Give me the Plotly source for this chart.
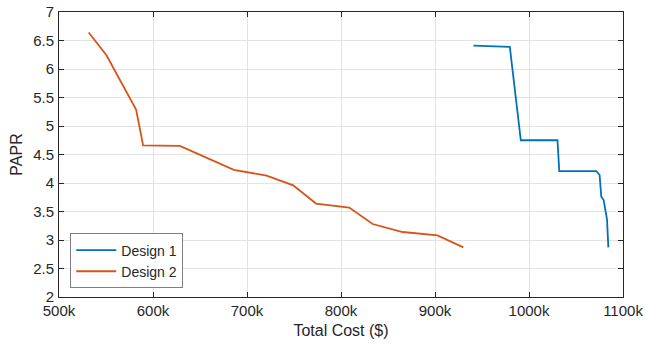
import plotly.graph_objects as go

# Data (cost in $k, PAPR)
design1_cost = [940.9, 979.6, 991.3, 1030.3, 1032.2, 1071.6, 1075.1, 1076.9, 1079.4, 1083.0, 1084.4]
design1_papr = [6.41, 6.39, 4.75, 4.75, 4.21, 4.21, 4.14, 3.76, 3.70, 3.36, 2.87]

design2_cost = [531.6, 550.5, 582.0, 589.5, 628.6, 686.0, 720.9, 749.2, 773.4, 808.8, 833.7, 865.6, 902.6, 930.2]
design2_papr = [6.64, 6.24, 5.29, 4.66, 4.65, 4.23, 4.13, 3.96, 3.64, 3.57, 3.28, 3.14, 3.08, 2.87]

x_tickvals = [500, 600, 700, 800, 900, 1000, 1100]
x_ticktext = ["500k", "600k", "700k", "800k", "900k", "1000k", "1100k"]
y_tickvals = [2, 2.5, 3, 3.5, 4, 4.5, 5, 5.5, 6, 6.5, 7]
y_ticktext = ["2", "2.5", "3", "3.5", "4", "4.5", "5", "5.5", "6", "6.5", "7"]

fig = go.Figure()
fig.add_trace(go.Scatter(x=design1_cost, y=design1_papr, mode="lines", name="Design 1",
                         line=dict(color="#0072BD", width=1.8)))
fig.add_trace(go.Scatter(x=design2_cost, y=design2_papr, mode="lines", name="Design 2",
                         line=dict(color="#D95319", width=1.8)))

axis_common = dict(
    showline=True, linecolor="#262626", linewidth=1, mirror="ticks",
    ticks="inside", ticklen=5, tickcolor="#262626",
    showgrid=True, gridcolor="#E3E3E3", gridwidth=1, zeroline=False,
    automargin=False,
    tickfont=dict(family="Liberation Sans, Arial, sans-serif", size=15, color="#262626"),
)

fig.update_layout(
    width=645, height=347,
    margin=dict(l=59, r=22, t=12, b=50),
    paper_bgcolor="white", plot_bgcolor="white",
    font=dict(family="Liberation Sans, Arial, sans-serif", color="#262626"),
    xaxis=dict(range=[500, 1100], tickvals=x_tickvals, ticktext=x_ticktext,
               ticklabelstandoff=0,
               title=dict(text="Total Cost ($)", font=dict(size=16), standoff=6), **axis_common),
    yaxis=dict(range=[2, 7], tickvals=y_tickvals, ticktext=y_ticktext,
               ticklabelstandoff=1,
               title=dict(text="PAPR", font=dict(size=16), standoff=6), **axis_common),
    legend=dict(x=0.02, y=0.03, xanchor="left", yanchor="bottom",
                bgcolor="white", bordercolor="#7F7F7F", borderwidth=1,
                font=dict(size=14, color="#262626"), tracegroupgap=0,
                itemwidth=40),
    showlegend=True,
)

# remove the page's default body margin so the figure sits at the window's corner
fig.write_html("out.html", config={"displayModeBar": False},
               post_script="document.body.style.margin='0px';")
